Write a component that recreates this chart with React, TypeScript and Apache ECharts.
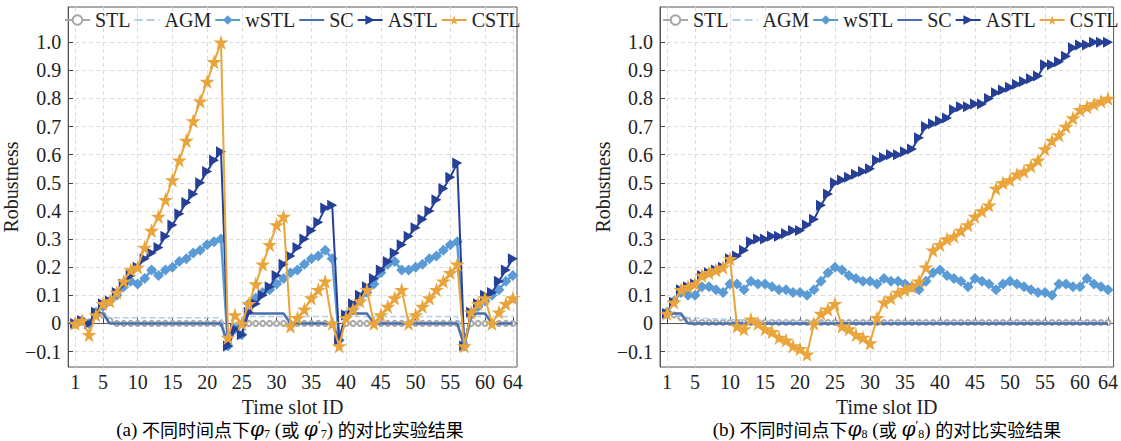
import React, { useEffect, useRef } from "react";
import * as echarts from "echarts";

// ---------- data ----------
const X: number[] = Array.from({ length: 64 }, (_, i) => i + 1);
const X_TICKS = [1, 5, 10, 15, 20, 25, 30, 35, 40, 45, 50, 55, 60, 64];
const Y_TICKS = [-0.1, 0, 0.1, 0.2, 0.3, 0.4, 0.5, 0.6, 0.7, 0.8, 0.9, 1.0];
const NAMES = ["STL", "AGM", "wSTL", "SC", "ASTL", "CSTL"];

// (a) phi7
const L_STL = [
  0, 0.01, 0, 0.03, 0.03, 0.01, 0, 0, 0, 0,
  0, 0, 0, 0, 0, 0, 0, 0, 0, 0,
  0, 0, -0.07, -0.01, 0, 0, 0, 0, 0, 0,
  0, 0, 0, 0, 0, 0, 0, 0, -0.05, 0,
  0, 0, 0, 0, 0, 0, 0, 0, 0, 0,
  0, 0, 0, 0, 0, 0, -0.07, 0, 0, 0,
  0, 0, 0, 0,
];
const L_AGM = [
  0, 0.01, 0, 0.03, 0.035, 0.02, 0.02, 0.02, 0.02, 0.02,
  0.02, 0.02, 0.02, 0.02, 0.02, 0.02, 0.02, 0.02, 0.02, 0.02,
  0.02, 0.02, -0.07, -0.01, 0.02, 0.025, 0.025, 0.025, 0.025, 0.025,
  0.025, 0.025, 0.025, 0.025, 0.025, 0.025, 0.025, 0.025, -0.05, 0.025,
  0.025, 0.025, 0.025, 0.025, 0.025, 0.025, 0.025, 0.025, 0.025, 0.025,
  0.025, 0.025, 0.025, 0.025, 0.025, 0.025, -0.07, 0.025, 0.025, 0.025,
  0.025, 0.025, 0.025, 0.025,
];
const L_WSTL = [
  0, 0.01, 0, 0.04, 0.06, 0.08, 0.1, 0.13, 0.15, 0.14,
  0.16, 0.19, 0.17, 0.19, 0.2, 0.22, 0.23, 0.25, 0.26, 0.28,
  0.29, 0.3, -0.08, -0.02, -0.04, 0.07, 0.09, 0.11, 0.12, 0.14,
  0.16, 0.18, 0.19, 0.21, 0.23, 0.24, 0.26, 0.23, -0.06, 0.03,
  0.05, 0.08, 0.11, 0.14, 0.18, 0.21, 0.22, 0.19, 0.19, 0.2,
  0.21, 0.23, 0.24, 0.26, 0.28, 0.29, -0.08, 0.03, 0.06, 0.08,
  0.1, 0.12, 0.15, 0.17,
];
const L_SC = [
  0, 0.01, 0, 0.035, 0.035, 0, 0, 0, 0, 0,
  0, 0, 0, 0, 0, 0, 0, 0, 0, 0,
  0, 0, -0.08, -0.02, 0, 0.035, 0.035, 0.035, 0.035, 0.035,
  0.035, 0, 0, 0, 0, 0, 0, 0, -0.06, 0.035,
  0.035, 0.035, 0.035, 0, 0, 0, 0, 0, 0, 0,
  0, 0, 0, 0, 0, 0, -0.08, 0.035, 0.035, 0.035,
  0, 0, 0, 0,
];
const L_ASTL = [
  0, 0.01, 0, 0.04, 0.07, 0.08, 0.11, 0.14, 0.17, 0.2,
  0.23, 0.25, 0.27, 0.31, 0.35, 0.39, 0.43, 0.46, 0.5, 0.54,
  0.58, 0.61, -0.08, -0.02, -0.04, 0.04, 0.07, 0.1, 0.13, 0.17,
  0.21, 0.24, 0.27, 0.3, 0.33, 0.36, 0.41, 0.42, -0.06, 0.03,
  0.07, 0.1, 0.13, 0.16, 0.19, 0.22, 0.25, 0.28, 0.31, 0.34,
  0.37, 0.4, 0.44, 0.48, 0.52, 0.57, -0.08, 0.04, 0.07, 0.1,
  0.11, 0.15, 0.19, 0.23,
];
const L_CSTL = [
  0, 0.01, -0.04, 0.03, 0.07, 0.08, 0.11, 0.15, 0.19, 0.2,
  0.27, 0.33, 0.38, 0.44, 0.51, 0.58, 0.65, 0.72, 0.79, 0.86,
  0.93, 1.0, -0.05, 0.03, 0, 0.07, 0.14, 0.21, 0.28, 0.35,
  0.38, -0.01, 0.02, 0.05, 0.09, 0.12, 0.15, 0, -0.08, 0.02,
  0.05, 0.08, 0.12, 0, 0.03, 0.06, 0.09, 0.12, 0, 0.03,
  0.06, 0.09, 0.12, 0.15, 0.18, 0.21, -0.08, 0.04, 0.07, 0.09,
  0, 0.04, 0.07, 0.09,
];

// (b) phi8
const R_STL = [
  0.03, 0.03, 0.02, 0.01, 0.003, 0.003, 0.003, 0.003, 0.003, 0.003,
  0.003, 0.003, 0.003, 0.003, 0.003, 0.003, 0.003, 0.003, 0.003, 0.003,
  0.003, 0.003, 0.003, 0.003, 0.003, 0.003, 0.003, 0.003, 0.003, 0.003,
  0.003, 0.003, 0.003, 0.003, 0.003, 0.003, 0.003, 0.003, 0.003, 0.003,
  0.003, 0.003, 0.003, 0.003, 0.003, 0.003, 0.003, 0.003, 0.003, 0.003,
  0.003, 0.003, 0.003, 0.003, 0.003, 0.003, 0.003, 0.003, 0.003, 0.003,
  0.003, 0.003, 0.003, 0.003,
];
const R_AGM = [
  0.03, 0.03, 0.025, 0.022, 0.02, 0.018, 0.017, 0.016, 0.015, 0.014,
  0.013, 0.012, 0.012, 0.011, 0.01, 0.01, 0.009, 0.009, 0.008, 0.008,
  0.007, 0.007, 0.007, 0.006, 0.006, 0.006, 0.006, 0.005, 0.005, 0.005,
  0.005, 0.005, 0.005, 0.005, 0.005, 0.005, 0.005, 0.005, 0.005, 0.005,
  0.004, 0.004, 0.004, 0.004, 0.004, 0.004, 0.004, 0.004, 0.004, 0.004,
  0.004, 0.004, 0.004, 0.004, 0.004, 0.004, 0.004, 0.004, 0.004, 0.004,
  0.004, 0.004, 0.004, 0.004,
];
const R_WSTL = [
  0.04, 0.08, 0.11, 0.1, 0.1, 0.13, 0.13, 0.12, 0.11, 0.14,
  0.14, 0.12, 0.15, 0.14, 0.14, 0.13, 0.12, 0.12, 0.11, 0.11,
  0.1, 0.12, 0.15, 0.18, 0.2, 0.19, 0.17, 0.16, 0.15, 0.15,
  0.14, 0.16, 0.15, 0.15, 0.14, 0.13, 0.12, 0.15, 0.18, 0.19,
  0.17, 0.16, 0.15, 0.13, 0.16, 0.15, 0.14, 0.12, 0.14, 0.15,
  0.14, 0.13, 0.12, 0.11, 0.11, 0.1, 0.14, 0.14, 0.13, 0.13,
  0.16, 0.14, 0.13, 0.12,
];
const R_SC = [
  0.035, 0.035, 0.035, 0, 0, 0, 0, 0, 0, 0,
  0, 0, 0, 0, 0, 0, 0, 0, 0, 0,
  0, 0, 0, 0, 0, 0, 0, 0, 0, 0,
  0, 0, 0, 0, 0, 0, 0, 0, 0, 0,
  0, 0, 0, 0, 0, 0, 0, 0, 0, 0,
  0, 0, 0, 0, 0, 0, 0, 0, 0, 0,
  0, 0, 0, 0,
];
const R_ASTL = [
  0.035, 0.075, 0.12, 0.13, 0.14, 0.17, 0.18, 0.19, 0.2, 0.23,
  0.24, 0.26, 0.29, 0.3, 0.3, 0.31, 0.31, 0.32, 0.33, 0.33,
  0.35, 0.37, 0.42, 0.46, 0.5, 0.51, 0.52, 0.53, 0.54, 0.55,
  0.58, 0.59, 0.6, 0.6, 0.61, 0.62, 0.66, 0.7, 0.71, 0.72,
  0.73, 0.76, 0.77, 0.77, 0.78, 0.78, 0.8, 0.82, 0.83, 0.84,
  0.85, 0.86, 0.87, 0.88, 0.92, 0.92, 0.93, 0.95, 0.98, 0.99,
  0.99, 1.0, 1.0, 1.0,
];
const R_CSTL = [
  0.035, 0.075, 0.12, 0.13, 0.14, 0.17, 0.18, 0.19, 0.2, 0.23,
  -0.01, -0.02, 0.015, 0, -0.02, -0.03, -0.05, -0.06, -0.08, -0.09,
  -0.11, 0, 0.035, 0.05, 0.07, -0.01, -0.02, -0.04, -0.05, -0.07,
  0.02, 0.075, 0.09, 0.11, 0.12, 0.13, 0.15, 0.2, 0.26, 0.28,
  0.3, 0.31, 0.33, 0.35, 0.38, 0.4, 0.42, 0.48, 0.5, 0.51,
  0.53, 0.54, 0.56, 0.58, 0.62, 0.65, 0.67, 0.7, 0.73, 0.76,
  0.77, 0.78, 0.79, 0.8,
];

const LEFT_SETS = [L_STL, L_AGM, L_WSTL, L_SC, L_ASTL, L_CSTL];
const RIGHT_SETS = [R_STL, R_AGM, R_WSTL, R_SC, R_ASTL, R_CSTL];

// ---------- styles ----------
const SERIF = "Liberation Serif";
const CJK = "Noto Sans CJK SC";
const STAR =
  "path://M50,0 L61,35 L98,35 L68,57 L79,91 L50,70 L21,91 L32,57 L2,35 L39,35 Z";
const TRI = "path://M0,0 L10,5 L0,10 Z";
const STYLES: any[] = [
  { symbol: "emptyCircle", symbolSize: 5, color: "#A8A8A8", width: 1.5, type: "solid", lineOnly: false },
  { symbol: "none", symbolSize: 0, color: "#B3CDE6", width: 1.5, type: "dashed", lineOnly: true },
  { symbol: "diamond", symbolSize: 11, color: "#5B9BD5", width: 2.5, type: "solid", lineOnly: false },
  { symbol: "none", symbolSize: 0, color: "#4A6FAE", width: 2.5, type: "solid", lineOnly: true },
  { symbol: TRI, symbolSize: [10, 11], color: "#263F97", width: 2, type: "solid", lineOnly: false },
  { symbol: STAR, symbolSize: 15, color: "#E9A53C", width: 2, type: "solid", lineOnly: false },
];

function pairs(vals: number[]) {
  return vals.map((v, i) => [X[i], v]);
}

function yFmt(v: number) {
  if (Math.abs(v) < 1e-9) return "0";
  if (v < 0) return "\u2212" + Math.abs(v).toFixed(1);
  return v.toFixed(1);
}

function buildSeries(sets: number[][], idx: number) {
  return sets.map((vals, k) => {
    const s = STYLES[k];
    return {
      type: "line",
      name: NAMES[k],
      xAxisIndex: idx,
      yAxisIndex: idx,
      data: pairs(vals),
      symbol: s.symbol,
      symbolSize: s.symbolSize,
      showSymbol: !s.lineOnly,
      lineStyle: { color: s.color, width: s.width, type: s.type },
      itemStyle: { color: s.color, opacity: s.lineOnly ? 0 : 1 },
      z: 2 + k,
      silent: true,
    };
  });
}

function xAxis(idx: number, max: number) {
  return {
    type: "value",
    gridIndex: idx,
    min: 0,
    max,
    name: "Time slot ID",
    nameLocation: "middle",
    nameGap: 23,
    nameTextStyle: { fontFamily: SERIF, fontSize: 20, color: "#222" },
    axisLine: { show: true, lineStyle: { color: "#555", width: 1 } },
    axisTick: { show: true, inside: true, length: 6, customValues: X_TICKS, lineStyle: { color: "#444" } },
    axisLabel: { customValues: X_TICKS, fontFamily: SERIF, fontSize: 20, color: "#222", margin: 5 },
    splitLine: { show: true, lineStyle: { color: "#DCDCDC", type: [4, 3], width: 1 } },
  };
}

function yAxis(idx: number) {
  return {
    type: "value",
    gridIndex: idx,
    min: -0.155,
    max: 1.125,
    name: "Robustness",
    nameLocation: "middle",
    nameGap: 29,
    nameTextStyle: { fontFamily: SERIF, fontSize: 20, color: "#222" },
    axisLine: { show: true, lineStyle: { color: "#555", width: 1 } },
    axisTick: { show: true, inside: true, length: 5, customValues: Y_TICKS, lineStyle: { color: "#444" } },
    axisLabel: {
      customValues: Y_TICKS,
      formatter: yFmt,
      fontFamily: SERIF,
      fontSize: 20,
      color: "#222",
      margin: 7,
    },
    splitLine: { show: true, lineStyle: { color: "#DCDCDC", type: [4, 3], width: 1 } },
  };
}

function legend(left: number) {
  return {
    left,
    top: 10,
    itemWidth: 25,
    itemHeight: 12,
    itemGap: 3,
    padding: 0,
    data: NAMES.map((n, k) =>
      STYLES[k].lineOnly ? { name: n, itemStyle: { opacity: 0 } } : { name: n }
    ),
    textStyle: { fontFamily: SERIF, fontSize: 20, color: "#222" },
    selectedMode: false,
  };
}

const RICH = {
  t: { fontFamily: SERIF, fontSize: 19, color: "#222", lineHeight: 22 },
  c: { fontFamily: CJK, fontSize: 18, color: "#222", lineHeight: 22 },
  phi: { fontFamily: "DejaVu Serif", fontStyle: "italic", fontSize: 20, color: "#222", lineHeight: 22 },
  sub: { fontFamily: SERIF, fontSize: 12, color: "#222", verticalAlign: "bottom", lineHeight: 14 },
  sup: { fontFamily: SERIF, fontSize: 13, color: "#222", verticalAlign: "top", lineHeight: 14 },
};

function caption(x: number, letter: string, n: string) {
  return {
    type: "text",
    x,
    y: 429,
    style: {
      text:
        "{t|(" + letter + ") }{c|不同时间点下}{phi|φ}{sub|" + n + "}{t| (}{c|或}{t| }{phi|φ}{sup|′}{sub|" + n + "}{t|) }{c|的对比实验结果}",
      rich: RICH,
      textAlign: "center",
      textVerticalAlign: "middle",
    },
  };
}

export default function App() {
  const ref = useRef<HTMLDivElement>(null);
  useEffect(() => {
    if (!ref.current) return;
    const chart = echarts.init(ref.current, undefined, { renderer: "svg" });
    chart.setOption({
      animation: false,
      backgroundColor: "#ffffff",
      grid: [
        { left: 62, top: 7, width: 455, height: 360, show: true, borderColor: "#555", borderWidth: 1, backgroundColor: "transparent" },
        { left: 660, top: 7, width: 455, height: 360, show: true, borderColor: "#555", borderWidth: 1, backgroundColor: "transparent" },
      ],
      xAxis: [xAxis(0, 64.6), xAxis(1, 64.8)],
      yAxis: [yAxis(0), yAxis(1)],
      legend: [legend(64), legend(662)],
      series: [...buildSeries(LEFT_SETS, 0), ...buildSeries(RIGHT_SETS, 1)],
      graphic: [caption(290, "a", "7"), caption(887, "b", "8")],
    });
    return () => chart.dispose();
  }, []);
  return (
    <div
      ref={ref}
      style={{ position: "absolute", left: 0, top: 0, width: 1121, height: 441, background: "#fff" }}
    />
  );
}
